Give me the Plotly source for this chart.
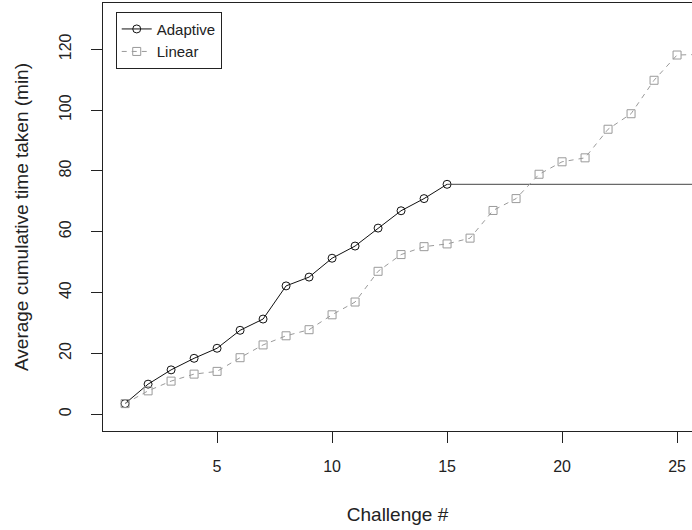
import plotly.graph_objects as go

# ---- data ----
challenge_adaptive = list(range(1, 16))
adaptive_minutes = [3.5, 9.9, 14.6, 18.4, 21.7, 27.6, 31.3, 42.2, 45.1, 51.3,
                    55.3, 61.2, 66.9, 70.9, 75.6]

challenge_linear = list(range(1, 27))
linear_minutes = [3.5, 7.7, 10.9, 13.2, 14.1, 18.6, 22.8, 25.8, 27.8, 32.7,
                  36.9, 47.0, 52.5, 55.1, 56.0, 57.9, 67.0, 70.9, 78.9, 83.0,
                  84.3, 93.7, 98.8, 109.8, 118.1, 118.3]

x_ticks = [5, 10, 15, 20, 25]
y_ticks = [0, 20, 40, 60, 80, 100, 120]

series_names = ["Adaptive", "Linear"]
x_title = "Challenge #"
y_title = "Average cumulative time taken (min)"

# ---- styling ----
FONT = "Liberation Sans, Arial, sans-serif"
X_RANGE = [0.04, 25.65]
Y_RANGE = [-5.5, 135.2]
ADAPT_COLOR = "#111111"
LIN_COLOR = "#9a9a9a"

fig = go.Figure()

fig.add_trace(go.Scatter(
    x=challenge_adaptive, y=adaptive_minutes, name=series_names[0],
    mode="lines+markers",
    line=dict(color=ADAPT_COLOR, width=1),
    marker=dict(symbol="circle-open", size=8, color=ADAPT_COLOR,
                line=dict(width=1, color=ADAPT_COLOR)),
))

# adaptive level continued after the last challenge
fig.add_trace(go.Scatter(
    x=[challenge_adaptive[-1], challenge_linear[-1] + 1],
    y=[adaptive_minutes[-1], adaptive_minutes[-1]],
    mode="lines", showlegend=False, hoverinfo="skip",
    line=dict(color="#444444", width=1),
))

fig.add_trace(go.Scatter(
    x=challenge_linear, y=linear_minutes, name=series_names[1],
    mode="lines+markers",
    line=dict(color=LIN_COLOR, width=1, dash="5px,5px"),
    marker=dict(symbol="square-open", size=8, color=LIN_COLOR,
                line=dict(width=1, color=LIN_COLOR)),
))

fig.update_layout(
    width=692, height=530,
    margin=dict(l=103, r=0, t=3, b=99),
    paper_bgcolor="white", plot_bgcolor="white",
    font=dict(family=FONT, color="#222222", size=16),
    showlegend=True,
    legend=dict(
        x=0.0216, y=0.9797, xanchor="left", yanchor="top",
        bordercolor="#222222", borderwidth=1, bgcolor="white",
        font=dict(family=FONT, size=15, color="#222222"),
        tracegroupgap=0,
    ),
)

fig.update_xaxes(
    range=X_RANGE, tickvals=x_ticks, ticktext=[str(v) for v in x_ticks],
    showgrid=False, zeroline=False,
    showline=True, linecolor="#222222", linewidth=1, mirror=True,
    ticks="outside", ticklen=11, tickcolor="#222222",
    tickfont=dict(size=16), ticklabelstandoff=10,
    title=dict(text=x_title, font=dict(size=19), standoff=33),
)
fig.update_yaxes(
    range=Y_RANGE, tickvals=y_ticks, ticktext=[str(v) for v in y_ticks],
    showgrid=False, zeroline=False,
    showline=True, linecolor="#222222", linewidth=1, mirror=False,
    ticks="outside", ticklen=11, tickcolor="#222222",
    tickfont=dict(size=16), tickangle=-90, ticklabelstandoff=14,
    title=dict(text=y_title, font=dict(size=19), standoff=22),
)

fig.write_html("out.html")
